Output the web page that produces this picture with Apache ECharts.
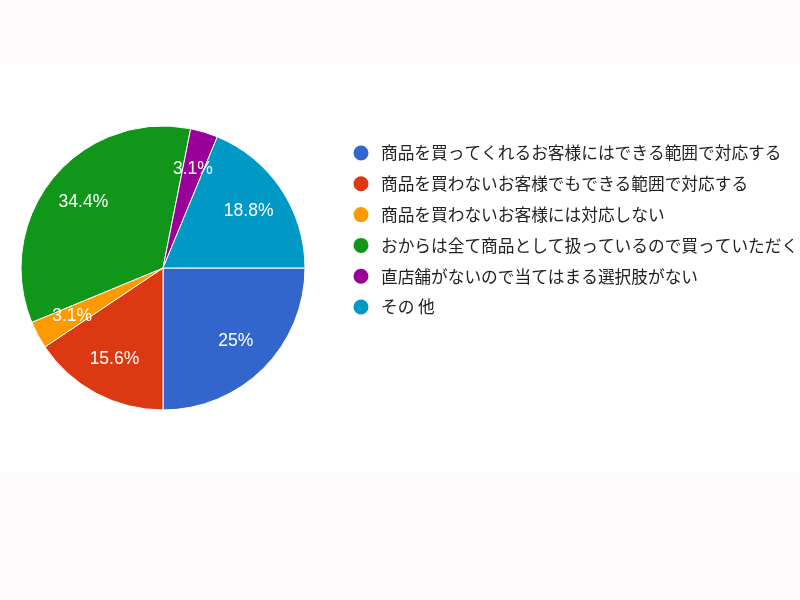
<!DOCTYPE html>
<html>
<head>
<meta charset="utf-8">
<script src="https://cdn.jsdelivr.net/npm/echarts@6/dist/echarts.min.js"></script>
<style>
  html, body { margin: 0; padding: 0; }
  #main {
    width: 800px; height: 600px;
    background: linear-gradient(to bottom, #fdfbfc 0, #fdfbfc 64px, #ffffff 64px, #ffffff 472px, #fdfbfc 472px, #fdfbfc 600px);
  }
</style>
</head>
<body>
<div id="main"></div>
<script>
// 回答項目と回答数（32件）
var categories = [
  '商品を買ってくれるお客様にはできる範囲で対応する',
  '商品を買わないお客様でもできる範囲で対応する',
  '商品を買わないお客様には対応しない',
  'おからは全て商品として扱っているので買っていただく',
  '直店舗がないので当てはまる選択肢がない',
  'その 他'
];
var counts = [8, 5, 1, 11, 1, 6];
var colors = ['#3366cc', '#dc3912', '#ff9900', '#109618', '#990099', '#0099c6'];

var pieData = categories.map(function (name, i) {
  return { name: name, value: counts[i] };
});

var chart = echarts.init(document.getElementById('main'));

var option = {
  backgroundColor: 'transparent',
  color: colors,
  legend: {
    orient: 'vertical',
    left: 346.5,
    top: 138.5,
    icon: 'circle',
    itemWidth: 17,
    itemHeight: 17,
    itemGap: 11.8,
    textStyle: {
      fontFamily: '"Noto Sans CJK JP", sans-serif',
      fontSize: 16.7,
      lineHeight: 17,
      color: '#222',
      padding: [0, 0, 0, 6.5]
    },
    data: categories
  },
  series: [
    {
      // 本体の円
      type: 'pie',
      center: [163, 268],
      radius: [0, 142],
      startAngle: 0,
      clockwise: true,
      silent: true,
      itemStyle: { borderColor: '#fff', borderWidth: 1 },
      label: { show: false },
      labelLine: { show: false },
      data: pieData
    },
    {
      // ラベル用（透明）
      type: 'pie',
      center: [163, 268],
      radius: [58, 142],
      startAngle: 0,
      clockwise: true,
      silent: true,
      percentPrecision: 1,
      itemStyle: { color: 'rgba(0,0,0,0)' },
      label: {
        show: true,
        position: 'inside',
        formatter: '{d}%',
        color: '#fff',
        fontSize: 17.5,
        fontFamily: '"Liberation Sans", Arial, sans-serif'
      },
      labelLine: { show: false },
      data: pieData
    }
  ]
};

chart.setOption(option);
</script>
</body>
</html>
